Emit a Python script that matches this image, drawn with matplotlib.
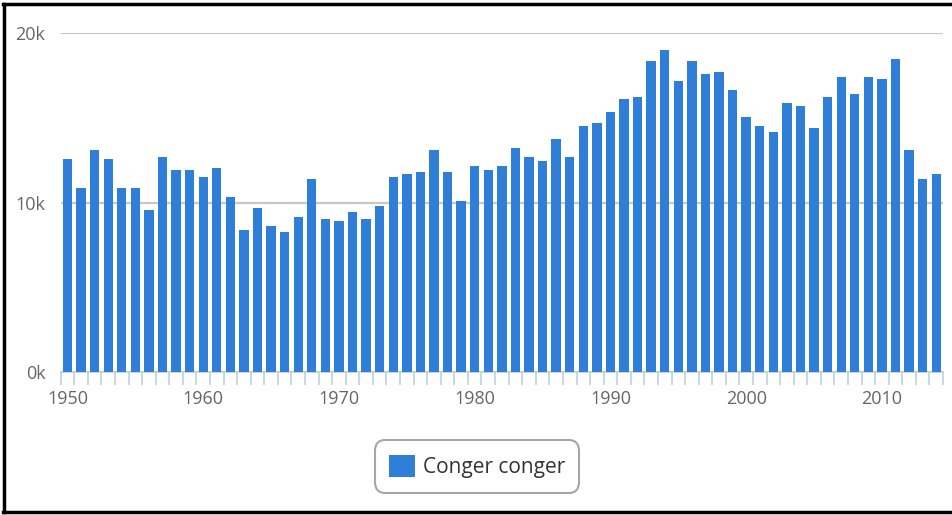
import matplotlib
matplotlib.use("Agg")
from matplotlib import pyplot as plt
from matplotlib.lines import Line2D
import numpy as np

plt.rcParams['font.family'] = ['Open Sans', 'DejaVu Sans']

years = list(range(1950, 2015))
catch = [12590, 10870, 13100, 12590, 10870, 10870, 9560, 12700, 11920, 11920,
         11520, 12060, 10340, 8380, 9680, 8630, 8240, 9140, 11390, 9030,
         8890, 9420, 9010, 9810, 11520, 11660, 11780, 13100, 11780, 10070,
         12170, 11920, 12170, 13230, 12700, 12430, 13750, 12700, 14530, 14670,
         15320, 16100, 16240, 18350, 19020, 17170, 18350, 17560, 17700, 16640,
         15060, 14530, 14140, 15850, 15710, 14410, 16240, 17420, 16380, 17420,
         17310, 18490, 13100, 11390, 11660]
series_name = "Conger conger"
y_ticks = [0, 10000, 20000]
y_labels = ["0k", "10k", "20k"]
label_years = [1950, 1960, 1970, 1980, 1990, 2000, 2010]

W, H = 952, 515
fig = plt.figure(figsize=(W / 100, H / 100), dpi=100)
fig.patch.set_facecolor("white")

# plot area in pixels: x 60.7..943, y 33..372
ax = fig.add_axes([60.7 / W, (H - 372) / H, (943 - 60.7) / W, (372 - 33) / H])

x = np.arange(len(years))
bars = ax.bar(x, catch, width=0.69, color="#2f7ed8", label=series_name, zorder=3)

ax.set_xlim(-0.5, len(years) - 0.5)
ax.set_ylim(0, 20000)

ax.set_yticks(y_ticks)
ax.set_yticklabels(y_labels)
ax.yaxis.grid(True, color="#c8c8c8", linewidth=1.6, zorder=0)
ax.tick_params(axis="y", length=0, pad=11, labelsize=13, labelcolor="#666666")

ax.set_xticks([years.index(yr) for yr in label_years])
ax.set_xticklabels([str(yr) for yr in label_years])
ax.set_xticks(np.arange(-0.5, len(years) + 0.5, 1), minor=True)
ax.tick_params(axis="x", which="major", length=0, pad=13, labelsize=13, labelcolor="#666666")
ax.tick_params(axis="x", which="minor", length=9.5, width=1.2, color="#c0d0e0")

for side in ["top", "right", "left"]:
    ax.spines[side].set_visible(False)
ax.spines["bottom"].set_color("#c0d0e0")
ax.spines["bottom"].set_linewidth(1.2)

leg = fig.legend(handles=[bars], labels=[series_name], loc="center",
                 bbox_to_anchor=(477 / W, 1 - 466.5 / H), fontsize=15,
                 frameon=True, fancybox=True, handlelength=1.25, handleheight=1.25,
                 handletextpad=0.35, borderpad=0.7, labelcolor="#333333")
frame = leg.get_frame()
frame.set_edgecolor("#909090")
frame.set_linewidth(1.5)
frame.set_boxstyle("round,pad=0,rounding_size=0.5")

# black frame of the screenshot
fig.add_artist(Line2D([4 / W, 4 / W], [1 - 4 / H, 1 - 512 / H], color="black", lw=2.5))
fig.add_artist(Line2D([3 / W, 1], [1 - 4 / H, 1 - 4 / H], color="black", lw=2.5))
fig.add_artist(Line2D([3 / W, 1], [1 - 512 / H, 1 - 512 / H], color="black", lw=2.5))

fig.savefig("out.png", dpi=100)
